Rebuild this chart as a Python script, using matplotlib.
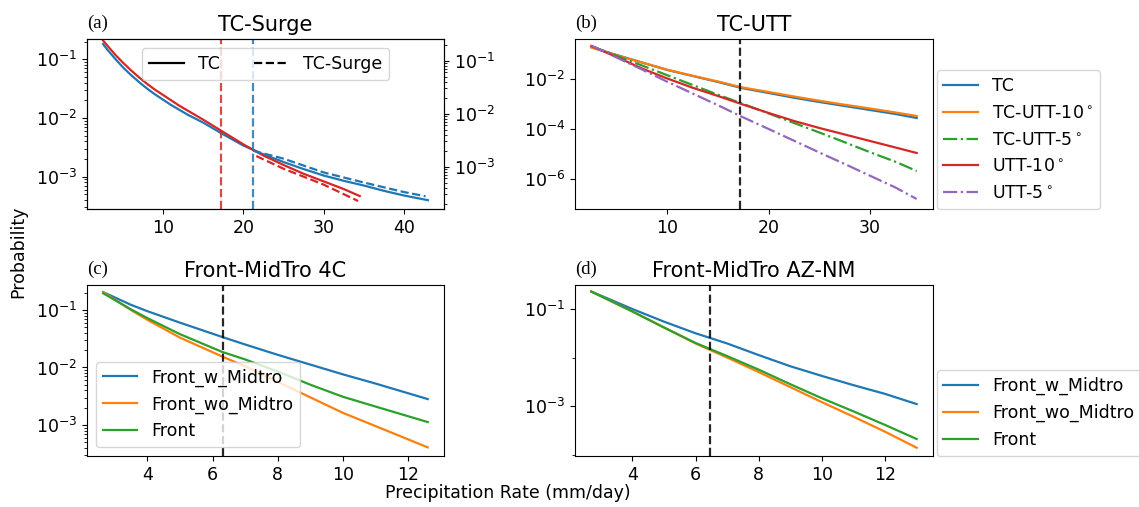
import numpy as np
import matplotlib
matplotlib.use("Agg")
import matplotlib.pyplot as plt
from matplotlib.ticker import FixedLocator, NullFormatter

plt.rcParams['font.size'] = 12.5

# ---- data (probabilities stored as log10) ----
# (a) TC-Surge
a_x_blue = [2.5, 3, 4, 5, 6, 7, 8, 9, 10, 11, 12, 13, 14, 15, 17.5, 20, 22.5,
            25, 27.5, 30, 32.5, 35, 37.5, 40, 43]
a_blue_log = [-0.74, -0.83, -0.99, -1.14, -1.27, -1.39, -1.50, -1.60, -1.69,
              -1.78, -1.86, -1.94, -2.01, -2.08, -2.28, -2.47, -2.62, -2.75,
              -2.87, -2.98, -3.07, -3.15, -3.24, -3.32, -3.40]
a_x_red = [2.5, 3, 4, 5, 6, 7, 8, 9, 10, 11, 12, 13, 14, 15, 17.5, 20, 22.5,
           25, 27.5, 30, 32.5, 34.5]
a_red_log = [-0.68, -0.76, -0.92, -1.06, -1.19, -1.31, -1.42, -1.52, -1.61,
             -1.70, -1.79, -1.87, -1.95, -2.03, -2.24, -2.45, -2.64, -2.80,
             -2.95, -3.08, -3.21, -3.33]
a_x_blue_surge = [21.2, 25, 30, 35, 40, 42.7]
a_blue_surge_log = [-2.70, -2.85, -3.11, -3.30, -3.48, -3.56]
a_x_red_surge = [21.6, 25, 30, 34.3]
a_red_surge_log = [-2.80, -3.04, -3.34, -3.65]
a_thresh_red = 17.2
a_thresh_blue = 21.2

# (b) TC-UTT
b_x = [2.5, 5, 7.5, 10, 12.5, 15, 17.3, 20, 22.5, 25, 27.5, 30, 32.5, 34.6]
b_tc_log = [-0.72, -1.04, -1.34, -1.64, -1.88, -2.12, -2.36, -2.56, -2.75,
            -2.92, -3.08, -3.24, -3.40, -3.56]
b_tcutt10_log = [-0.74, -1.05, -1.34, -1.63, -1.87, -2.10, -2.33, -2.52, -2.70,
                 -2.87, -3.03, -3.18, -3.34, -3.48]
b_tcutt5_log = [-0.68, -1.07, -1.46, -1.85, -2.24, -2.63, -2.97, -3.38, -3.76,
                -4.14, -4.53, -4.93, -5.31, -5.68]
b_utt10_log = [-0.68, -1.12, -1.58, -1.98, -2.35, -2.68, -3.00, -3.36, -3.68,
               -3.96, -4.22, -4.48, -4.74, -4.96]
b_utt5_log = [-0.66, -1.14, -1.62, -2.11, -2.58, -3.05, -3.50, -4.00, -4.47,
              -4.94, -5.40, -5.87, -6.34, -6.80]
b_thresh = 17.2

# (c) Front-MidTro 4C
c_x = [2.65, 3.5, 4, 5, 6.3, 7, 8, 9, 10, 11, 12.6]
c_w_log = [-0.69, -0.91, -1.02, -1.22, -1.47, -1.60, -1.78, -1.95, -2.12,
           -2.28, -2.55]
c_wo_log = [-0.69, -1.00, -1.17, -1.48, -1.81, -1.98, -2.25, -2.52, -2.79,
            -3.02, -3.39]
c_front_log = [-0.71, -0.99, -1.14, -1.42, -1.73, -1.86, -2.07, -2.30, -2.51,
               -2.68, -2.95]
c_thresh = 6.33

# (d) Front-MidTro AZ-NM
d_x = [2.7, 4, 5, 6, 7, 8, 9, 10, 11, 12, 13]
d_w_log = [-0.64, -1.00, -1.26, -1.50, -1.71, -1.95, -2.18, -2.38, -2.57,
           -2.75, -2.96]
d_wo_log = [-0.64, -1.05, -1.38, -1.71, -2.00, -2.30, -2.61, -2.92, -3.22,
            -3.53, -3.86]
d_front_log = [-0.64, -1.05, -1.38, -1.70, -1.97, -2.25, -2.55, -2.84, -3.11,
               -3.39, -3.68]
d_thresh = 6.47

front_labels = ['Front_w_Midtro', 'Front_wo_Midtro', 'Front']
utt_labels = ['TC', r'TC-UTT-10$^\circ$', r'TC-UTT-5$^\circ$',
              r'UTT-10$^\circ$', r'UTT-5$^\circ$']
LW = 1.6


def p(vals):
    return 10 ** np.array(vals)


def panel_label(ax, s):
    ax.text(0.0, 1.04, s, transform=ax.transAxes, ha='left', va='bottom',
            family='Liberation Serif', fontsize=13.5)


fig = plt.figure(figsize=(11.39, 5.07), dpi=100)
ax_a = fig.add_axes([0.0764, 0.5878, 0.3134, 0.3353])
ax_b = fig.add_axes([0.5048, 0.5878, 0.3143, 0.3353])
ax_c = fig.add_axes([0.0764, 0.1006, 0.3134, 0.3373])
ax_d = fig.add_axes([0.5048, 0.1006, 0.3143, 0.3373])

# (a)
ax_a.plot(a_x_blue, p(a_blue_log), color='#1f77b4', lw=LW)
ax_a.plot(a_x_red, p(a_red_log), color='#d62728', lw=LW)
ax_a.axvline(a_thresh_red, color='#d62728', ls='--', lw=LW, alpha=0.85)
ax_a.axvline(a_thresh_blue, color='#1f77b4', ls='--', lw=LW, alpha=0.85)
ax_a.set_yscale('log')
ax_a.set_ylim(10 ** -3.55, 10 ** -0.654)
ax_a.set_xlim(0.5, 45)
ax_a2 = ax_a.twinx()
ax_a2.plot(a_x_blue_surge, p(a_blue_surge_log), color='#1f77b4', ls='--', lw=LW)
ax_a2.plot(a_x_red_surge, p(a_red_surge_log), color='#d62728', ls='--', lw=LW)
ax_a2.set_yscale('log')
ax_a2.set_ylim(10 ** -3.80, 10 ** -0.59)
ax_a.plot([], [], 'k-', lw=LW, label='TC')
ax_a.plot([], [], 'k--', lw=LW, label='TC-Surge')
ax_a.legend(loc='upper center', ncol=2, fontsize=12.5)
ax_a.set_title('TC-Surge', fontsize=15)
panel_label(ax_a, '(a)')

# (b)
b_series = [b_tc_log, b_tcutt10_log, b_tcutt5_log, b_utt10_log, b_utt5_log]
b_styles = ['-', '-', '-.', '-', '-.']
b_colors = ['C0', 'C1', 'C2', 'C3', 'C4']
for vals, ls, col, lab in zip(b_series, b_styles, b_colors, utt_labels):
    ax_b.plot(b_x, p(vals), ls=ls, color=col, lw=LW, label=lab)
ax_b.axvline(b_thresh, color='k', ls='--', lw=LW, alpha=0.85)
ax_b.set_yscale('log')
ax_b.set_ylim(10 ** -7.2, 10 ** -0.4)
ax_b.legend(loc='lower left', bbox_to_anchor=(1.01, 0), borderaxespad=0,
            fontsize=12.5)
ax_b.set_title('TC-UTT', fontsize=15)
panel_label(ax_b, '(b)')

# (c)
for vals, col, lab in zip([c_w_log, c_wo_log, c_front_log], ['C0', 'C1', 'C2'],
                          front_labels):
    ax_c.plot(c_x, p(vals), color=col, lw=LW, label=lab)
ax_c.axvline(c_thresh, color='k', ls='--', lw=LW, alpha=0.85)
ax_c.set_yscale('log')
ax_c.set_ylim(10 ** -3.54, 10 ** -0.565)
ax_c.legend(loc='lower left', fontsize=12.5)
ax_c.set_title('Front-MidTro 4C', fontsize=15)
panel_label(ax_c, '(c)')

# (d)
for vals, col, lab in zip([d_w_log, d_wo_log, d_front_log], ['C0', 'C1', 'C2'],
                          front_labels):
    ax_d.plot(d_x, p(vals), color=col, lw=LW, label=lab)
ax_d.axvline(d_thresh, color='k', ls='--', lw=LW, alpha=0.85)
ax_d.set_yscale('log')
ax_d.set_ylim(10 ** -4.03, 10 ** -0.505)
ax_d.yaxis.set_major_locator(FixedLocator([1e-1, 1e-3]))
ax_d.yaxis.set_minor_locator(FixedLocator([1e-2, 1e-4]))
ax_d.yaxis.set_minor_formatter(NullFormatter())
ax_d.legend(loc='lower left', bbox_to_anchor=(1.01, 0), borderaxespad=0,
            fontsize=12.5)
ax_d.set_title('Front-MidTro AZ-NM', fontsize=15)
panel_label(ax_d, '(d)')

fig.text(0.446, 0.028, 'Precipitation Rate (mm/day)', ha='center', va='center',
         fontsize=12.5)
fig.text(0.016, 0.503, 'Probability', rotation=90, ha='center', va='center',
         fontsize=12.5)

fig.savefig('out.png', dpi=100)
